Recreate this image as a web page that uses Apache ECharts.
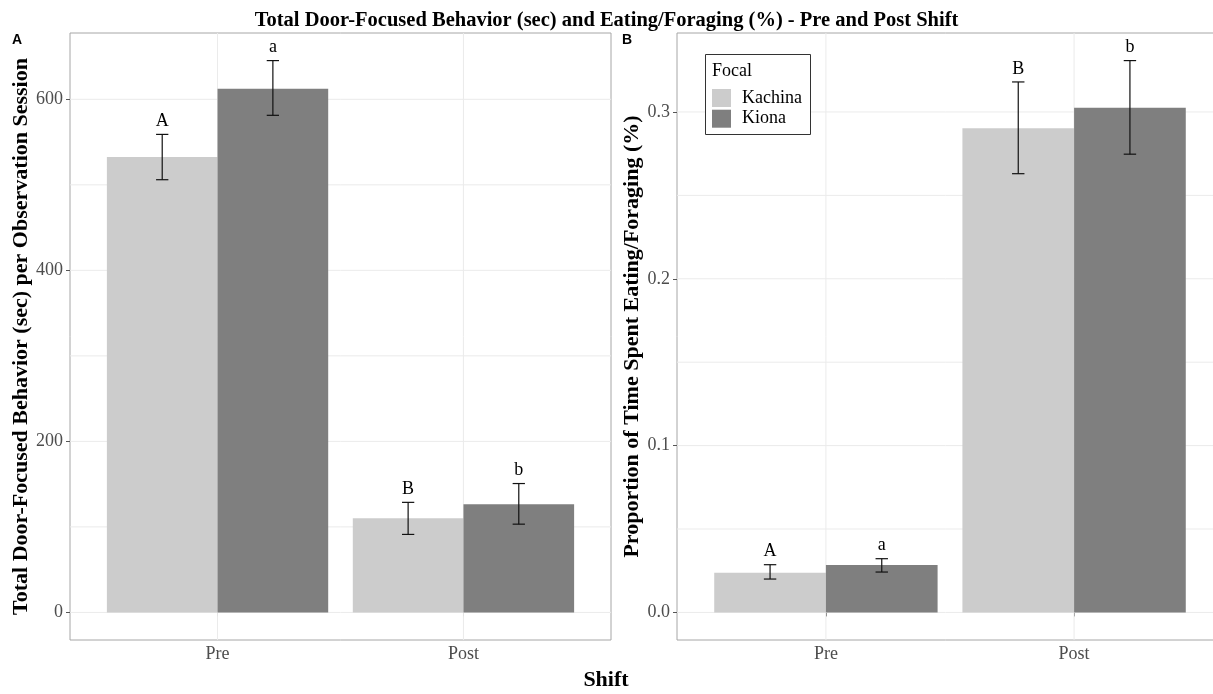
<!DOCTYPE html>
<html>
<head>
<meta charset="utf-8">
<script src="https://cdn.jsdelivr.net/npm/echarts@6/dist/echarts.min.js"></script>
<style>
html,body{margin:0;padding:0;background:#fff;}
#chart{width:1213px;height:694px;}
</style>
</head>
<body>
<div id="chart"></div>
<script>
// ---------- data ----------
const shifts = ['Pre', 'Post'];
const focals = ['Kachina', 'Kiona'];

// Panel A: total door-focused behaviour (sec)
const doorKachina   = [532.5, 110.0];
const doorKachinaLo = [506.0, 91.2];
const doorKachinaHi = [559.0, 128.7];
const doorKiona     = [612.5, 126.5];
const doorKionaLo   = [581.3, 103.2];
const doorKionaHi   = [645.3, 150.7];
const doorKachinaLetters = ['A', 'B'];
const doorKionaLetters   = ['a', 'b'];
const doorTicks = [0, 200, 400, 600];
const doorMinor = [100, 300, 500];

// Panel B: proportion of time eating/foraging
const foodKachina   = [0.0238, 0.2902];
const foodKachinaLo = [0.0200, 0.2630];
const foodKachinaHi = [0.0286, 0.3180];
const foodKiona     = [0.0284, 0.3025];
const foodKionaLo   = [0.0242, 0.2747];
const foodKionaHi   = [0.0322, 0.3308];
const foodKachinaLetters = ['A', 'B'];
const foodKionaLetters   = ['a', 'b'];
const foodTicks = [0, 0.1, 0.2, 0.3];
const foodMinor = [0.05, 0.15, 0.25];

const colors = { Kachina: '#cccccc', Kiona: '#7f7f7f' };
const SERIF = '"Liberation Serif", "DejaVu Serif", serif';
const DODGE = 0.9;
const HALF = DODGE / 4; // half bar width in category units

// ---------- helpers ----------
function barSeries(name, vals, offset, gi) {
  return {
    name: name, type: 'custom', xAxisIndex: gi, yAxisIndex: gi, z: 3,
    itemStyle: { color: colors[name] },
    data: vals.map((v, i) => [i + 1 + offset, v]),
    renderItem: function (params, api) {
      const x = api.value(0), v = api.value(1);
      const p1 = api.coord([x - HALF, v]);
      const p2 = api.coord([x + HALF, 0]);
      return { type: 'rect',
        shape: { x: p1[0], y: p1[1], width: p2[0] - p1[0], height: p2[1] - p1[1] },
        style: { fill: colors[name] } };
    }
  };
}
function errSeries(name, lo, hi, letters, offset, gi) {
  return {
    name: name + ' error', type: 'custom', xAxisIndex: gi, yAxisIndex: gi, z: 4,
    silent: true,
    data: lo.map((l, i) => [i + 1 + offset, l, hi[i]]),
    renderItem: function (params, api) {
      const x = api.value(0);
      const a = api.coord([x, api.value(1)]);
      const b = api.coord([x, api.value(2)]);
      const cl = api.coord([x - 0.025, 0])[0];
      const cr = api.coord([x + 0.025, 0])[0];
      const ls = { stroke: '#111', lineWidth: 1.2 };
      return { type: 'group', children: [
        { type: 'line', shape: { x1: a[0], y1: a[1], x2: b[0], y2: b[1] }, style: ls },
        { type: 'line', shape: { x1: cl, y1: a[1], x2: cr, y2: a[1] }, style: ls },
        { type: 'line', shape: { x1: cl, y1: b[1], x2: cr, y2: b[1] }, style: ls },
        { type: 'text', x: b[0], y: b[1] - 4,
          style: { text: letters[params.dataIndex], fill: '#000', font: '18px ' + SERIF,
                   align: 'center', verticalAlign: 'bottom' } }
      ]};
    }
  };
}
function gridSeries(gi, majors, minors, ymin, ymax) {
  const items = [];
  majors.forEach(v => items.push([0, v]));
  minors.forEach(v => items.push([0, v]));
  [1, 2].forEach(v => items.push([1, v]));
  return {
    type: 'custom', xAxisIndex: gi, yAxisIndex: gi, z: 1, silent: true,
    data: items,
    renderItem: function (params, api) {
      const kind = api.value(0), v = api.value(1);
      let p1, p2;
      if (kind === 0) { p1 = api.coord([0.4, v]); p2 = api.coord([2.6, v]); }
      else { p1 = api.coord([v, ymin]); p2 = api.coord([v, ymax]); }
      return { type: 'line', shape: { x1: p1[0], y1: p1[1], x2: p2[0], y2: p2[1] },
        style: { stroke: '#ebebeb', lineWidth: 1 } };
    }
  };
}
function xAxis(gi) {
  return {
    type: 'value', gridIndex: gi, min: 0.4, max: 2.6,
    axisLine: { show: false },
    splitLine: { show: false },
    axisTick: { show: true, length: 4, customValues: [1, 2], lineStyle: { color: '#555' } },
    axisLabel: { customValues: [1, 2], formatter: v => shifts[Math.round(v) - 1],
      color: '#4d4d4d', fontFamily: SERIF, fontSize: 18, margin: 5 }
  };
}
function yAxis(gi, ticks, ymin, ymax, name, gap, fmt) {
  return {
    type: 'value', gridIndex: gi, min: ymin, max: ymax,
    axisLine: { show: false },
    splitLine: { show: false },
    axisTick: { show: true, length: 4, customValues: ticks, lineStyle: { color: '#555' } },
    axisLabel: { customValues: ticks, formatter: fmt,
      color: '#4d4d4d', fontFamily: SERIF, fontSize: 18, margin: 7 },
    name: name, nameLocation: 'middle', nameGap: gap,
    nameTextStyle: { fontFamily: SERIF, fontSize: 22, fontWeight: 'bold', color: '#000' }
  };
}

// axis ranges (ggplot-like 5% expansion of data range)
const doorMax = Math.max(...doorKachinaHi, ...doorKionaHi);
const doorMin = -0.05 * doorMax, doorTop = 1.05 * doorMax;
const foodMax = Math.max(...foodKachinaHi, ...foodKionaHi);
const foodMin = -0.05 * foodMax, foodTop = 1.05 * foodMax;

const chart = echarts.init(document.getElementById('chart'), null, { renderer: 'canvas' });
chart.setOption({
  animation: false,
  backgroundColor: '#fff',
  title: {
    text: 'Total Door-Focused Behavior (sec) and Eating/Foraging (%) - Pre and Post Shift',
    left: 'center', top: 5,
    textStyle: { fontFamily: SERIF, fontSize: 20.5, fontWeight: 'bold', color: '#000' }
  },
  legend: {
    data: focals, orient: 'vertical', left: 712, top: 89, z: 6,
    itemWidth: 19, itemHeight: 18, itemGap: 2.7, padding: 0, icon: 'rect',
    textStyle: { fontFamily: SERIF, fontSize: 18, color: '#000', padding: [2, 0, 0, 6] }
  },
  grid: [
    { left: 70, top: 33, width: 541, height: 607, show: true, borderColor: '#a6a6a6',
      borderWidth: 1, backgroundColor: '#fff', outerBoundsMode: 'none', containLabel: false },
    { left: 677, top: 33, width: 546, height: 607, show: true, borderColor: '#a6a6a6',
      borderWidth: 1, backgroundColor: '#fff', outerBoundsMode: 'none', containLabel: false }
  ],
  xAxis: [xAxis(0), xAxis(1)],
  yAxis: [
    yAxis(0, doorTicks, doorMin, doorTop,
      'Total Door-Focused Behavior (sec) per Observation Session', 37, v => String(v)),
    yAxis(1, foodTicks, foodMin, foodTop,
      'Proportion of Time Spent Eating/Foraging (%)', 33, v => v.toFixed(1))
  ],
  graphic: [
    { type: 'text', left: 12, top: 33, z: 20, style: { text: 'A', font: 'bold 14px "Liberation Sans", Arial, sans-serif', fill: '#000' } },
    { type: 'text', left: 622, top: 33, z: 20, style: { text: 'B', font: 'bold 14px "Liberation Sans", Arial, sans-serif', fill: '#000' } },
    { type: 'text', x: 606, y: 680, z: 20, style: { text: 'Shift', font: 'bold 22px ' + SERIF, fill: '#000', align: 'center', verticalAlign: 'middle' } },
    { type: 'rect', z: 2, shape: { x: 706, y: 55, width: 104, height: 79 }, style: { fill: '#fff' } },
    { type: 'rect', z: 20, shape: { x: 705.5, y: 54.5, width: 105, height: 80 },
      style: { fill: 'none', stroke: '#333', lineWidth: 1 } },
    { type: 'text', x: 712, y: 71, z: 20, style: { text: 'Focal', font: '18px ' + SERIF, fill: '#000', verticalAlign: 'middle' } }
  ],
  series: [
    gridSeries(0, doorTicks, doorMinor, doorMin, doorTop),
    gridSeries(1, foodTicks, foodMinor, foodMin, foodTop),
    barSeries('Kachina', doorKachina, -HALF, 0),
    barSeries('Kiona', doorKiona, HALF, 0),
    barSeries('Kachina', foodKachina, -HALF, 1),
    barSeries('Kiona', foodKiona, HALF, 1),
    errSeries('Kachina', doorKachinaLo, doorKachinaHi, doorKachinaLetters, -HALF, 0),
    errSeries('Kiona', doorKionaLo, doorKionaHi, doorKionaLetters, HALF, 0),
    errSeries('Kachina', foodKachinaLo, foodKachinaHi, foodKachinaLetters, -HALF, 1),
    errSeries('Kiona', foodKionaLo, foodKionaHi, foodKionaLetters, HALF, 1)
  ]
});
</script>
</body>
</html>
